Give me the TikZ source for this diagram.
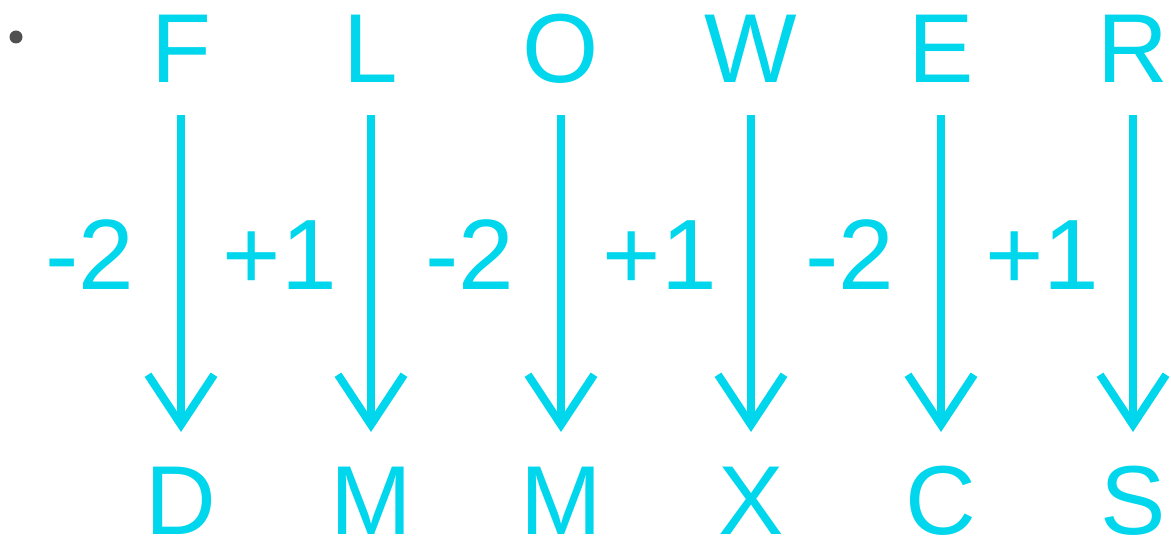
\documentclass[tikz,border=0pt]{standalone}
\usepackage{fontspec}
\setmainfont{Liberation Sans}
\usetikzlibrary{arrows.meta}
\definecolor{cyanc}{RGB}{0,214,236}
\definecolor{bulletc}{RGB}{80,80,80}
\begin{document}
\begin{tikzpicture}[x=1pt,y=-1pt,
  letter/.style={anchor=base,inner sep=0pt,text=cyanc,font=\fontsize{98}{98}\selectfont},
  shiftlbl/.style={anchor=base,inner sep=0pt,text=cyanc,font=\fontsize{100}{100}\selectfont},
  arr/.style={draw=cyanc,line width=8pt,-{Straight Barb[length=50pt,width=66pt,line width=8pt]}}]
\useasboundingbox (0,0) rectangle (1171,543);
\fill[bulletc] (16,37) circle (6.5);
\foreach \i/\t/\b/\x/\l in {1/F/D/181/-2,2/L/M/371/+1,3/O/M/561/-2,4/W/X/751/+1,5/E/C/941/-2,6/R/S/1133/+1}{
  \node[letter] (t\i) at (\x,83) {\t};
  \node[letter] (b\i) at (\x,534) {\b};
  \node[shiftlbl] (l\i) at (\x-91,289) {\l};
  \coordinate (s\i) at (\x,115);
  \coordinate (e\i) at (\x,432);
  \draw[arr] (s\i) -- (e\i);
}
\end{tikzpicture}
\end{document}
